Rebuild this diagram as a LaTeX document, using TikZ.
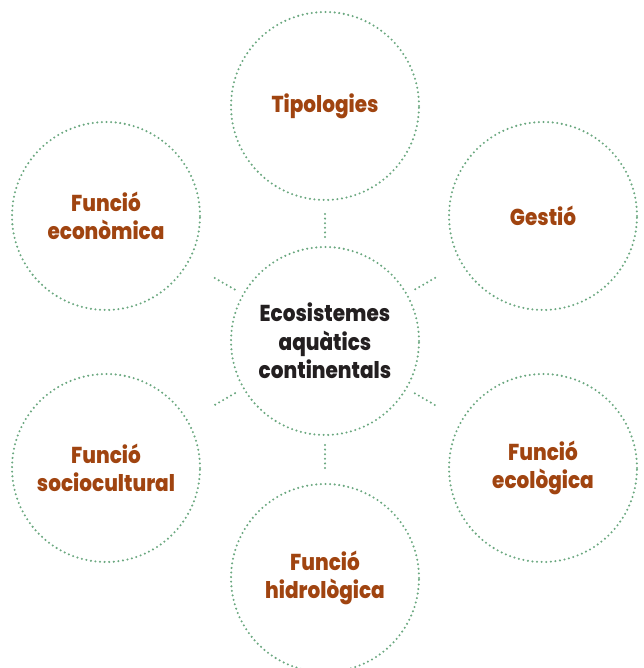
\documentclass[tikz,border=0pt]{standalone}
\usepackage{fontspec}
\setmainfont{Poppins}[BoldFont={Poppins ExtraBold}, BoldFeatures={FakeStretch=0.87}]
\usetikzlibrary{calc}
\definecolor{dotg}{HTML}{6BA880}
\definecolor{rust}{HTML}{A04410}
\definecolor{ink}{HTML}{231F20}
\begin{document}
\begin{tikzpicture}[x=1pt,y=-1pt,
 dots/.style={draw=dotg, line width=2.3pt, dash pattern=on 0pt off 4.6pt, line cap=round},
 ring/.style={circle, dots, minimum size=188pt, inner sep=0pt, align=center,
   font=\bfseries\fontsize{23}{28.5}\selectfont, text=rust},
 hub/.style={ring, text=ink},
 link/.style={dots}]
\useasboundingbox (0,0) rectangle (643,668);
\clip (0,0) rectangle (643,668);
\node[hub] (c) at (325,341) {Ecosistemes\\aquàtics\\continentals};
\node[ring] (t) at (325,106) {Tipologies};
\node[ring] (g) at (543,216) {Gestió};
\node[ring] (e) at (543,468) {Funció\\ecològica};
\node[ring] (h) at (325,578) {Funció\\hidrològica};
\node[ring] (s) at (106,468) {Funció\\sociocultural};
\node[ring] (n) at (106,216) {Funció\\econòmica};
\foreach \o in {t,g,e,h,s,n}{
  \draw[link] ($(c)!104pt!(\o)$) -- ($(c)!129pt!(\o)$);
}
\end{tikzpicture}
\end{document}
